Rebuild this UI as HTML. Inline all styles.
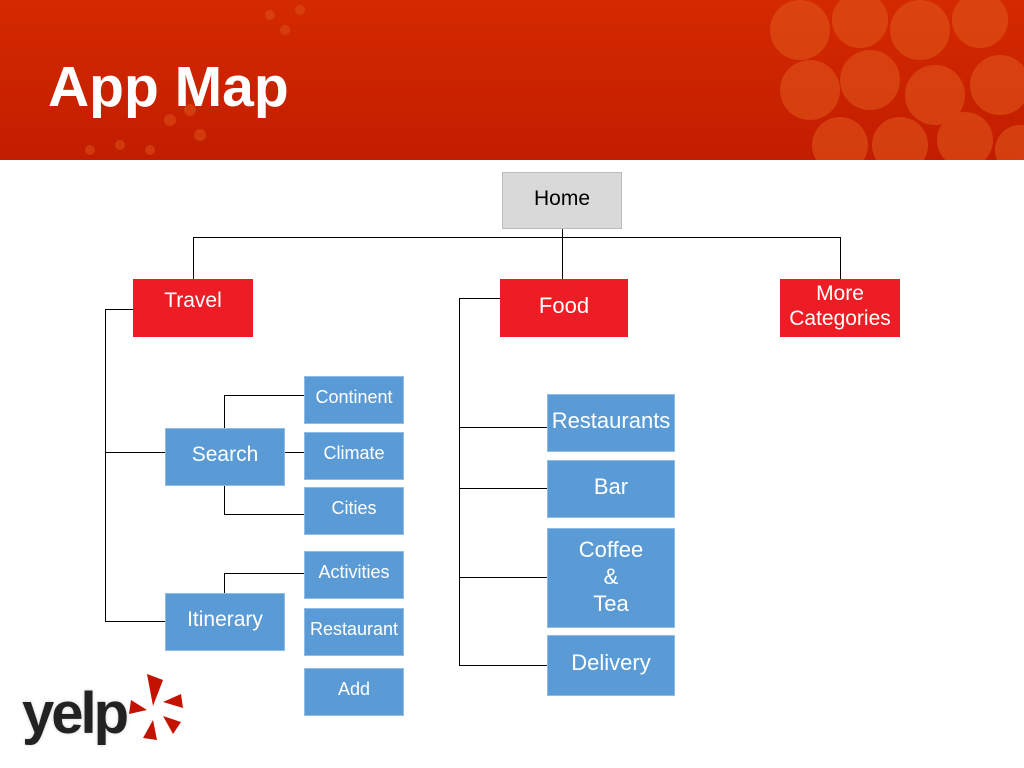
<!DOCTYPE html>
<html><head><style>
body{margin:0;width:1024px;height:768px;position:relative;background:#fff;font-family:"Liberation Sans",sans-serif;overflow:hidden}
.hdr{position:absolute;left:0;top:0;width:1024px;height:160px;background:linear-gradient(180deg,#d42a00,#c21d00)}
.b{position:absolute;box-sizing:border-box;display:flex;align-items:center;justify-content:center;text-align:center;color:#fff;line-height:1.2;padding-bottom:4px}
.r{background:#ee1c25;font-size:21px}
.u{background:#5b9bd5;border:1px solid #8fbbe4;font-size:18px}
.s{font-size:22px}
.l{position:absolute;background:#000}
</style></head><body>
<div class="hdr">
<svg width="1024" height="160" style="position:absolute;left:0;top:0">
<g fill="#e0551a" opacity="0.6">
<circle cx="800" cy="30" r="30"/><circle cx="860" cy="20" r="28"/><circle cx="920" cy="30" r="30"/><circle cx="980" cy="20" r="28"/>
<circle cx="810" cy="90" r="30"/><circle cx="870" cy="80" r="30"/><circle cx="935" cy="95" r="30"/><circle cx="1000" cy="85" r="30"/>
<circle cx="840" cy="145" r="28"/><circle cx="900" cy="145" r="28"/><circle cx="965" cy="140" r="28"/><circle cx="1020" cy="150" r="25"/>
</g>
<g fill="#e0551a" opacity="0.5">
<circle cx="270" cy="15" r="5"/><circle cx="285" cy="30" r="5"/><circle cx="300" cy="10" r="5"/><circle cx="170" cy="120" r="6"/><circle cx="190" cy="110" r="6"/><circle cx="200" cy="135" r="6"/><circle cx="90" cy="150" r="5"/><circle cx="120" cy="145" r="5"/><circle cx="150" cy="150" r="5"/>
</g></svg>
<div style="position:absolute;left:48px;top:54px;font-size:57px;font-weight:bold;color:#fff">App Map</div>
</div>

<div class="b" style="left:502px;top:172px;width:120px;height:57px;background:#d9d9d9;border:1px solid #bbb;color:#000;font-size:21px">Home</div>
<div class="l" style="left:193px;top:237px;width:648px;height:1px"></div>
<div class="l" style="left:562px;top:229px;width:1px;height:50px"></div>
<div class="l" style="left:193px;top:237px;width:1px;height:42px"></div>
<div class="l" style="left:840px;top:237px;width:1px;height:42px"></div>

<div class="b r" style="left:133px;top:279px;width:120px;height:58px;align-items:flex-start;padding-top:9px">Travel</div>
<div class="b r" style="left:500px;top:279px;width:128px;height:58px;font-size:22px">Food</div>
<div class="b r" style="left:780px;top:279px;width:120px;height:58px">More<br>Categories</div>

<div class="l" style="left:105px;top:309px;width:1px;height:313px"></div>
<div class="l" style="left:105px;top:309px;width:28px;height:1px"></div>
<div class="l" style="left:105px;top:452px;width:60px;height:1px"></div>
<div class="l" style="left:105px;top:621px;width:60px;height:1px"></div>

<div class="l" style="left:224px;top:395px;width:1px;height:33px"></div>
<div class="l" style="left:224px;top:395px;width:80px;height:1px"></div>
<div class="l" style="left:285px;top:452px;width:19px;height:1px"></div>
<div class="l" style="left:224px;top:486px;width:1px;height:29px"></div>
<div class="l" style="left:224px;top:514px;width:80px;height:1px"></div>
<div class="l" style="left:224px;top:573px;width:1px;height:20px"></div>
<div class="l" style="left:224px;top:573px;width:80px;height:1px"></div>

<div class="b u s" style="left:165px;top:428px;width:120px;height:58px;font-size:21px">Search</div>
<div class="b u s" style="left:165px;top:593px;width:120px;height:58px;font-size:21px">Itinerary</div>
<div class="b u" style="left:304px;top:376px;width:100px;height:48px">Continent</div>
<div class="b u" style="left:304px;top:432px;width:100px;height:48px">Climate</div>
<div class="b u" style="left:304px;top:487px;width:100px;height:48px">Cities</div>
<div class="b u" style="left:304px;top:551px;width:100px;height:48px">Activities</div>
<div class="b u" style="left:304px;top:608px;width:100px;height:48px">Restaurant</div>
<div class="b u" style="left:304px;top:668px;width:100px;height:48px">Add</div>

<div class="l" style="left:459px;top:298px;width:1px;height:368px"></div>
<div class="l" style="left:459px;top:298px;width:41px;height:1px"></div>
<div class="l" style="left:459px;top:427px;width:88px;height:1px"></div>
<div class="l" style="left:459px;top:488px;width:88px;height:1px"></div>
<div class="l" style="left:459px;top:577px;width:88px;height:1px"></div>
<div class="l" style="left:459px;top:665px;width:88px;height:1px"></div>

<div class="b u s" style="left:547px;top:394px;width:128px;height:58px">Restaurants</div>
<div class="b u s" style="left:547px;top:460px;width:128px;height:58px">Bar</div>
<div class="b u s" style="left:547px;top:528px;width:128px;height:100px;line-height:27px">Coffee<br>&amp;<br>Tea</div>
<div class="b u s" style="left:547px;top:635px;width:128px;height:61px">Delivery</div>

<div style="position:absolute;left:22px;top:680px;font-size:58px;font-weight:bold;color:#222;letter-spacing:-3px;text-shadow:0 0 3px #ccc">yelp</div>
<svg width="70" height="80" style="position:absolute;left:125px;top:672px">
<g fill="#c41200">
<path d="M22 2 L38 8 L28 34 Z"/>
<path d="M38 30 L56 22 L58 36 Z"/>
<path d="M38 44 L56 50 L48 62 Z"/>
<path d="M28 48 L32 68 L18 66 Z"/>
<path d="M22 38 L4 42 L6 28 Z"/>
</g></svg>
</body></html>
